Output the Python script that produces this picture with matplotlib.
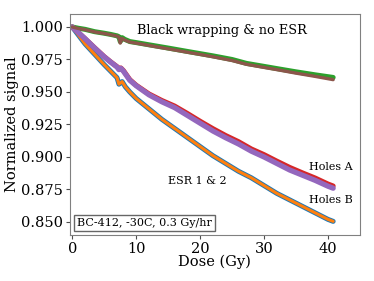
import numpy as np
import matplotlib
matplotlib.use("Agg")
import matplotlib.pyplot as plt
from matplotlib.offsetbox import AnchoredText

plt.rcParams.update({"font.family": "DejaVu Serif", "font.size": 10})

# dose points (Gy)
dose_bw = [0, 1, 2, 3.5, 5, 6, 7, 7.3, 7.5, 7.8, 8.2, 9, 10, 12, 15, 18, 20, 22, 25,
           27.25, 30, 32, 35, 38, 40.8]
green = [1.000, 0.9990, 0.9982, 0.9964, 0.9952, 0.9943, 0.9932, 0.9925, 0.9888, 0.9918,
         0.9905, 0.9888, 0.9880, 0.9863, 0.9838, 0.9812, 0.9795, 0.9778, 0.9750,
         0.9720, 0.9697, 0.9680, 0.9655, 0.9632, 0.9612]
brown = [1.000, 0.9988, 0.9980, 0.9962, 0.9950, 0.9940, 0.9930, 0.9922, 0.9876, 0.9912,
         0.9900, 0.9884, 0.9876, 0.9858, 0.9832, 0.9806, 0.9789, 0.9771, 0.9742,
         0.9713, 0.9689, 0.9672, 0.9645, 0.9620, 0.9595]

dose_h = [0, 1, 2, 3.5, 5, 6, 7, 7.3, 7.6, 8.0, 8.5, 9, 10, 12, 14, 16, 18, 20, 22, 24,
          26, 28, 30, 32, 34, 36, 38, 40, 40.8]
holes_a = [1.000, 0.9955, 0.9910, 0.9840, 0.9772, 0.9732, 0.9695, 0.9680, 0.9685, 0.9665,
           0.9630, 0.9595, 0.9552, 0.9485, 0.9435, 0.9392, 0.9335, 0.9275, 0.9218, 0.9165,
           0.9118, 0.9062, 0.9018, 0.8968, 0.8920, 0.8878, 0.8838, 0.8792, 0.8777]
holes_b = [1.000, 0.9955, 0.9910, 0.9838, 0.9770, 0.9730, 0.9692, 0.9672, 0.9682, 0.9660,
           0.9625, 0.9590, 0.9548, 0.9478, 0.9425, 0.9380, 0.9320, 0.9260, 0.9200, 0.9148,
           0.9100, 0.9045, 0.9000, 0.8950, 0.8900, 0.8860, 0.8820, 0.8775, 0.8760]

dose_e = [0, 1, 2, 3.5, 5, 6, 7, 7.3, 7.8, 8.3, 9, 10, 12, 14, 16, 18, 20, 22, 24, 26,
          28, 30, 32, 34, 36, 38, 40, 40.8]
esr_1 = [1.000, 0.9935, 0.9870, 0.9790, 0.9710, 0.9660, 0.9610, 0.9560, 0.9580, 0.9540,
         0.9500, 0.9450, 0.9370, 0.9290, 0.9220, 0.9150, 0.9080, 0.9010, 0.8950, 0.8890,
         0.8840, 0.8780, 0.8720, 0.8670, 0.8620, 0.8570, 0.8520, 0.8505]
esr_2 = list(esr_1)

yticks = [0.850, 0.875, 0.900, 0.925, 0.950, 0.975, 1.000]

fig = plt.figure(figsize=(3.74, 2.81), dpi=100)
ax = fig.add_axes([0.1864, 0.1637, 0.7762, 0.7865])

ax.plot(dose_e, esr_1, color="C0", lw=3.6, solid_capstyle="round")
ax.plot(dose_e, esr_2, color="C1", lw=2.2, solid_capstyle="round")
ax.plot(dose_bw, green, color="C2", lw=3.6, solid_capstyle="round")
ax.plot(dose_h, holes_a, color="C3", lw=3.6, solid_capstyle="round")
ax.plot(dose_h, holes_b, color="C4", lw=3.8, solid_capstyle="round")
ax.plot(dose_bw, brown, color="C5", lw=2.4, solid_capstyle="round")

ax.text(10.06, 0.997, "Black wrapping & no ESR", fontsize=9.3, va="center")
ax.text(37.0, 0.8925, "Holes A", fontsize=8, va="center")
ax.text(37.0, 0.867, "Holes B", fontsize=8, va="center")
ax.text(14.9, 0.8815, "ESR 1 & 2", fontsize=8, va="center")

at = AnchoredText("BC-412, -30C, 0.3 Gy/hr", loc="lower left", prop=dict(size=8),
                  frameon=True, pad=0.25, borderpad=0.4)
at.patch.set_edgecolor("0.4")
ax.add_artist(at)

ax.set_xlim(-0.4, 45)
ax.set_ylim(0.840, 1.010)
ax.set_xticks([0, 10, 20, 30, 40])
ax.set_yticks(yticks)
ax.set_yticklabels([f"{v:.3f}" for v in yticks])
ax.set_xlabel("Dose (Gy)", fontsize=10.5, labelpad=-1)
ax.set_ylabel("Normalized signal", fontsize=10.5, labelpad=1)
for s in ax.spines.values():
    s.set_color("0.5")
ax.tick_params(length=3, pad=2, labelsize=10.5, color="0.3")

fig.savefig("out.png", dpi=100)
